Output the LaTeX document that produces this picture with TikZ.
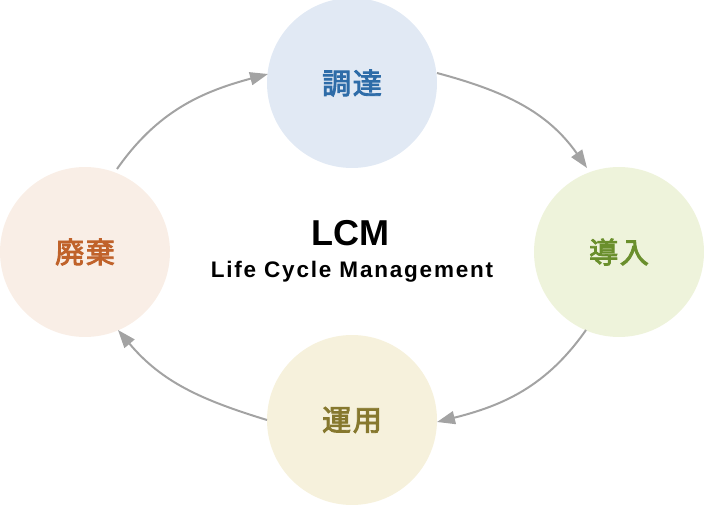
\documentclass[tikz,border=0pt]{standalone}
\usepackage{fontspec}
\setmainfont{Noto Sans CJK JP}
\newfontfamily\jp[FakeBold=3,LetterSpace=6]{Noto Sans CJK JP}
\newfontfamily\lat[LetterSpace=8]{Liberation Sans}
\newfontfamily\latbig{Liberation Sans}
\usetikzlibrary{arrows.meta}
\definecolor{cT}{HTML}{E1E9F4}
\definecolor{cR}{HTML}{EEF3DB}
\definecolor{cB}{HTML}{F6F1DC}
\definecolor{cL}{HTML}{F9EEE6}
\definecolor{tT}{HTML}{2E6CA8}
\definecolor{tR}{HTML}{6A8F2C}
\definecolor{tB}{HTML}{86782E}
\definecolor{tL}{HTML}{C0622A}
\definecolor{arrc}{HTML}{A3A3A3}
\tikzset{
  phase/.style={circle, minimum size=170pt, inner sep=0pt, font=\jp\fontsize{29}{32}\selectfont},
  arr/.style={draw=arrc, line width=2pt, -{Triangle[length=18pt,width=13pt]}},
}
\begin{document}
\begin{tikzpicture}[x=1pt,y=1pt]
\useasboundingbox (0,0) rectangle (704,504);
\node[phase, fill=cT, text=tT] (T) at (352,421) {調達};
\node[phase, fill=cR, text=tR] (R) at (619,252) {導入};
\node[phase, fill=cB, text=tB] (B) at (352,84) {運用};
\node[phase, fill=cL, text=tL] (L) at (85,252) {廃棄};
\node[font=\latbig\fontsize{36}{40}\selectfont\bfseries] (lcm) at (350,271) {LCM};
\node[font=\lat\fontsize{22.5}{26}\selectfont\bfseries] (lcmsub) at (352,232) {Life Cycle Management};
\coordinate (a1s) at (117,335);
\coordinate (a1e) at (268,430);
\coordinate (a2s) at (437,431);
\coordinate (a2e) at (587,336);
\coordinate (a3s) at (586,174);
\coordinate (a3e) at (437,82);
\coordinate (a4s) at (267,84);
\coordinate (a4e) at (118,174);
\draw[arr] (a1s) to[out=55,in=195] (a1e);
\draw[arr] (a2s) to[out=-15,in=125] (a2e);
\draw[arr] (a3s) to[out=235,in=14] (a3e);
\draw[arr] (a4s) to[out=163,in=-50] (a4e);
\end{tikzpicture}
\end{document}
